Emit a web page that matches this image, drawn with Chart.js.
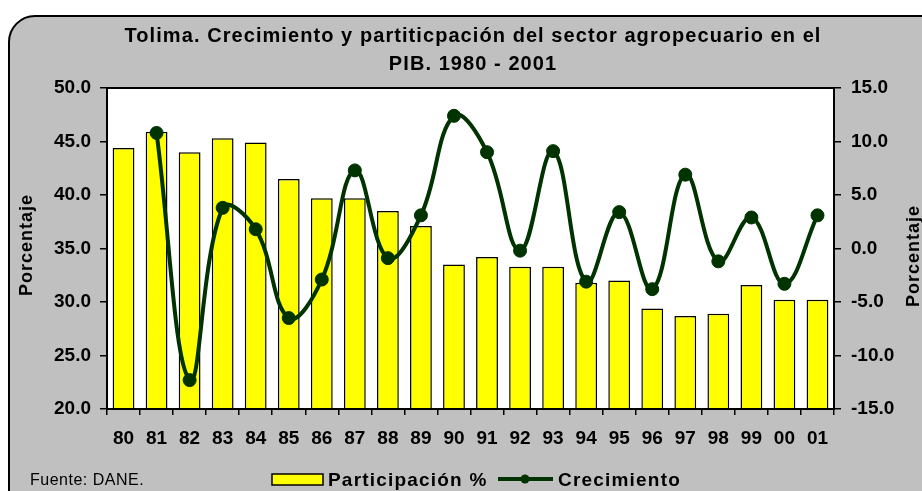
<!DOCTYPE html>
<html>
<head>
<meta charset="utf-8">
<script src="https://cdn.jsdelivr.net/npm/chart.js@4"></script>
<style>
  html, body { margin: 0; padding: 0; background: #ffffff; }
  canvas { display: block; }
</style>
</head>
<body>
<canvas id="chart" width="922" height="491"></canvas>
<script>
const years = ['80', '81', '82', '83', '84', '85', '86', '87', '88', '89', '90',
  '91', '92', '93', '94', '95', '96', '97', '98', '99', '00', '01'];
const participacion = [44.4, 45.9, 44.0, 45.3, 44.9, 41.5, 39.7, 39.7, 38.5, 37.1, 33.5,
  34.2, 33.3, 33.3, 31.8, 32.0, 29.4, 28.7, 28.9, 31.6, 30.2, 30.2];
const crecimiento = [null, 10.8, -12.3, 3.8, 1.8, -6.5, -2.9, 7.3, -0.9, 3.1, 12.4,
  9.0, -0.2, 9.1, -3.1, 3.4, -3.8, 6.9, -1.2, 2.9, -3.3, 3.1];
const titleLines = ['Tolima. Crecimiento y partiticpación del sector agropecuario en el', 'PIB. 1980 - 2001'];

const FONT = '"Liberation Sans", Arial, sans-serif';

// frame, title, axis titles, legend and source note
const decorations = {
  id: 'decorations',
  beforeDraw(chart) {
    const ctx = chart.ctx;
    const a = chart.chartArea;
    ctx.save();
    ctx.fillStyle = '#ffffff';
    ctx.fillRect(0, 0, chart.width, chart.height);
    ctx.beginPath();
    ctx.roundRect(9, 16, 940, 500, 26);
    ctx.fillStyle = '#c0c0c0';
    ctx.fill();
    ctx.lineWidth = 2;
    ctx.strokeStyle = '#000';
    ctx.stroke();
    ctx.fillStyle = '#ffffff';
    ctx.fillRect(a.left, a.top, a.right - a.left, a.bottom - a.top);
    ctx.restore();
  },
  afterDraw(chart) {
    const ctx = chart.ctx;
    const a = chart.chartArea;
    ctx.save();
    ctx.strokeStyle = '#000';
    ctx.lineWidth = 2;
    ctx.strokeRect(a.left, a.top, a.right - a.left, a.bottom - a.top);

    ctx.fillStyle = '#000';
    ctx.textAlign = 'center';
    ctx.textBaseline = 'alphabetic';
    ctx.font = 'bold 20px ' + FONT;
    ctx.letterSpacing = '0px';
    const w = ctx.measureText(titleLines[0]).width;
    const sp = Math.max(0, (697 - w) / titleLines[0].length);
    ctx.letterSpacing = sp + 'px';
    ctx.fillText(titleLines[0], 473, 42);
    ctx.fillText(titleLines[1], 473, 70);

    // axis titles
    ctx.font = 'bold 18px ' + FONT;
    ctx.letterSpacing = '1px';
    ctx.textBaseline = 'middle';
    ctx.translate(27, 245);
    ctx.rotate(-Math.PI / 2);
    ctx.fillText('Porcentaje', 0, 0);
    ctx.setTransform(1, 0, 0, 1, 0, 0);
    ctx.translate(914, 256);
    ctx.rotate(-Math.PI / 2);
    ctx.fillText('Porcentaje', 0, 0);
    ctx.setTransform(1, 0, 0, 1, 0, 0);

    // source
    ctx.textAlign = 'left';
    ctx.textBaseline = 'alphabetic';
    ctx.font = '16px ' + FONT;
    ctx.letterSpacing = '0.5px';
    ctx.fillText('Fuente: DANE.', 30, 485);

    // legend
    ctx.fillStyle = '#ffff00';
    ctx.fillRect(272, 474, 51, 11);
    ctx.lineWidth = 1.5;
    ctx.strokeRect(272, 474, 51, 11);
    ctx.fillStyle = '#000';
    ctx.font = 'bold 19px ' + FONT;
    ctx.letterSpacing = '1.2px';
    ctx.fillText('Participación %', 328, 486);
    ctx.strokeStyle = '#003300';
    ctx.lineWidth = 4;
    ctx.beginPath();
    ctx.moveTo(498, 479);
    ctx.lineTo(553, 479);
    ctx.stroke();
    ctx.fillStyle = '#003300';
    ctx.beginPath();
    ctx.arc(525, 479, 4.5, 0, Math.PI * 2);
    ctx.fill();
    ctx.fillStyle = '#000';
    ctx.fillText('Crecimiento', 558, 486);
    ctx.restore();
  }
};

const tickFont = { family: FONT, size: 19, weight: 'bold' };

new Chart(document.getElementById('chart').getContext('2d'), {
  data: {
    labels: years,
    datasets: [
      {
        type: 'line',
        label: 'Crecimiento',
        data: crecimiento,
        yAxisID: 'y1',
        order: 0,
        borderColor: '#003300',
        backgroundColor: '#003300',
        borderWidth: 4,
        pointRadius: 6.5,
        pointBackgroundColor: '#003300',
        pointBorderColor: '#003300',
        pointBorderWidth: 1,
        tension: 0.4,
        fill: false
      },
      {
        type: 'bar',
        label: 'Participación %',
        data: participacion,
        yAxisID: 'y',
        order: 1,
        backgroundColor: '#ffff00',
        borderColor: '#000000',
        borderWidth: 1.5,
        categoryPercentage: 1,
        barPercentage: 0.66
      }
    ]
  },
  options: {
    responsive: false,
    animation: false,
    layout: { padding: { top: 88, left: 0, right: 0, bottom: 0 } },
    plugins: {
      legend: { display: false },
      title: { display: false },
      tooltip: { enabled: false }
    },
    scales: {
      x: {
        offset: true,
        grid: { offset: true, drawOnChartArea: false, drawTicks: true, tickLength: 6, color: '#000', lineWidth: 1.5 },
        border: { display: true, color: '#000', width: 2 },
        ticks: { color: '#000', font: tickFont, padding: 12, maxRotation: 0, autoSkip: false },
        afterFit: s => { s.height = 82; }
      },
      y: {
        position: 'left',
        min: 20,
        max: 50,
        grid: { drawOnChartArea: false, drawTicks: true, tickLength: 7, color: '#000', lineWidth: 1.5 },
        border: { display: true, color: '#000', width: 2 },
        ticks: { stepSize: 5, color: '#000', font: tickFont, padding: 9, callback: v => v.toFixed(1) },
        afterFit: s => { s.width = 107; }
      },
      y1: {
        position: 'right',
        min: -15,
        max: 15,
        grid: { drawOnChartArea: false, drawTicks: true, tickLength: 7, color: '#000', lineWidth: 1.5 },
        border: { display: true, color: '#000', width: 2 },
        ticks: { stepSize: 5, color: '#000', font: tickFont, padding: 10, callback: v => v.toFixed(1) },
        afterFit: s => { s.width = 88; }
      }
    }
  },
  plugins: [decorations]
});
</script>
</body>
</html>
